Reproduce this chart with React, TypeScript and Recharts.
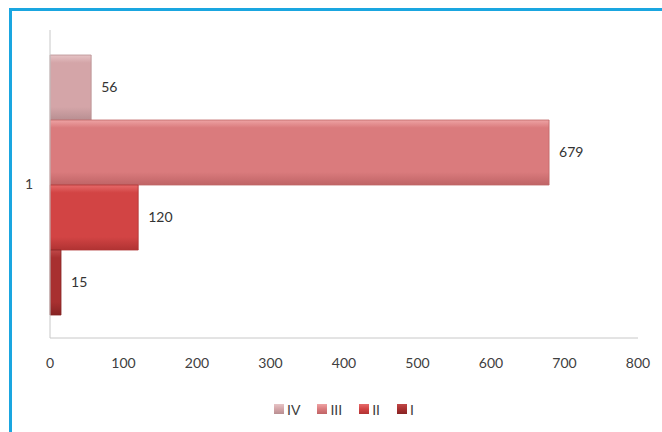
import { BarChart, Bar, XAxis, YAxis, Legend, LabelList } from 'recharts';

// data
const categories = ['1'];
const seriesNames = ['IV', 'III', 'II', 'I'];
const seriesValues = [56, 679, 120, 15];
const xTicks = [0, 100, 200, 300, 400, 500, 600, 700, 800];

// bevelled fills: [top, middle, bottom]
const shades = [
  ['#e6c4c6', '#d4a5a8', '#b88f92'],
  ['#eea3a4', '#da7b7d', '#bf6466'],
  ['#e66a6a', '#d24444', '#b03333'],
  ['#c04848', '#a83030', '#862424'],
];

const rows = categories.map((name) => {
  const row: Record<string, string | number> = { name };
  seriesNames.forEach((s, i) => {
    row[s] = seriesValues[i];
  });
  return row;
});

const font = 'Lato, "Liberation Sans", sans-serif';

function LegendContent() {
  return (
    <div
      style={{
        display: 'flex',
        justifyContent: 'center',
        gap: 17,
        paddingLeft: 40,
        fontFamily: font,
        fontSize: 14,
        color: '#404040',
        height: 20,
        alignItems: 'center',
      }}
    >
      {seriesNames.map((s, i) => (
        <span key={s} style={{ display: 'flex', alignItems: 'center', gap: 3 }}>
          <span
            style={{
              width: 10,
              height: 10,
              display: 'inline-block',
              background: `linear-gradient(${shades[i][0]}, ${shades[i][1]} 50%, ${shades[i][2]})`,
            }}
          />
          {s}
        </span>
      ))}
    </div>
  );
}

export default function App() {
  return (
    <div style={{ position: 'fixed', left: 0, top: 0, width: 662, height: 432, background: '#fff' }}>
      {/* blue frame, only top and left are in the crop */}
      <div
        style={{
          position: 'absolute',
          left: 9,
          top: 8,
          right: 0,
          bottom: 0,
          borderTop: '3px solid #1aa6e0',
          borderLeft: '3px solid #1aa6e0',
        }}
      />
      <div style={{ position: 'absolute', left: 0, top: 0 }}>
        <BarChart
          width={662}
          height={432}
          data={rows}
          layout="vertical"
          barGap={0}
          barCategoryGap={25}
          margin={{ top: 30, right: 24, left: 10, bottom: 13 }}
        >
          <defs>
            {shades.map((c, i) => (
              <linearGradient key={i} id={`bevel${i}`} x1="0" y1="0" x2="0" y2="1">
                <stop offset="0%" stopColor={c[0]} />
                <stop offset="12%" stopColor={c[1]} />
                <stop offset="80%" stopColor={c[1]} />
                <stop offset="100%" stopColor={c[2]} />
              </linearGradient>
            ))}
          </defs>
          <XAxis
            type="number"
            domain={[0, 800]}
            ticks={xTicks}
            height={61}
            tickSize={0}
            tickLine={false}
            tickMargin={20}
            stroke="#c8c8c8"
            tick={{ fill: '#404040', fontSize: 14, fontFamily: font }}
          />
          <YAxis
            type="category"
            dataKey="name"
            width={40}
            tickSize={0}
            tickLine={false}
            tickMargin={17}
            stroke="#c8c8c8"
            tick={{ fill: '#404040', fontSize: 14, fontFamily: font }}
          />
          <Legend verticalAlign="bottom" height={20} content={<LegendContent />} />
          {seriesNames.map((s, i) => (
            <Bar key={s} dataKey={s} name={s} fill={`url(#bevel${i})`} stroke={shades[i][2]} strokeWidth={0.8} isAnimationActive={false}>
              <LabelList dataKey={s} position="right" offset={10} fill="#333" fontSize={14} fontFamily={font} />
            </Bar>
          ))}
        </BarChart>
      </div>
    </div>
  );
}
